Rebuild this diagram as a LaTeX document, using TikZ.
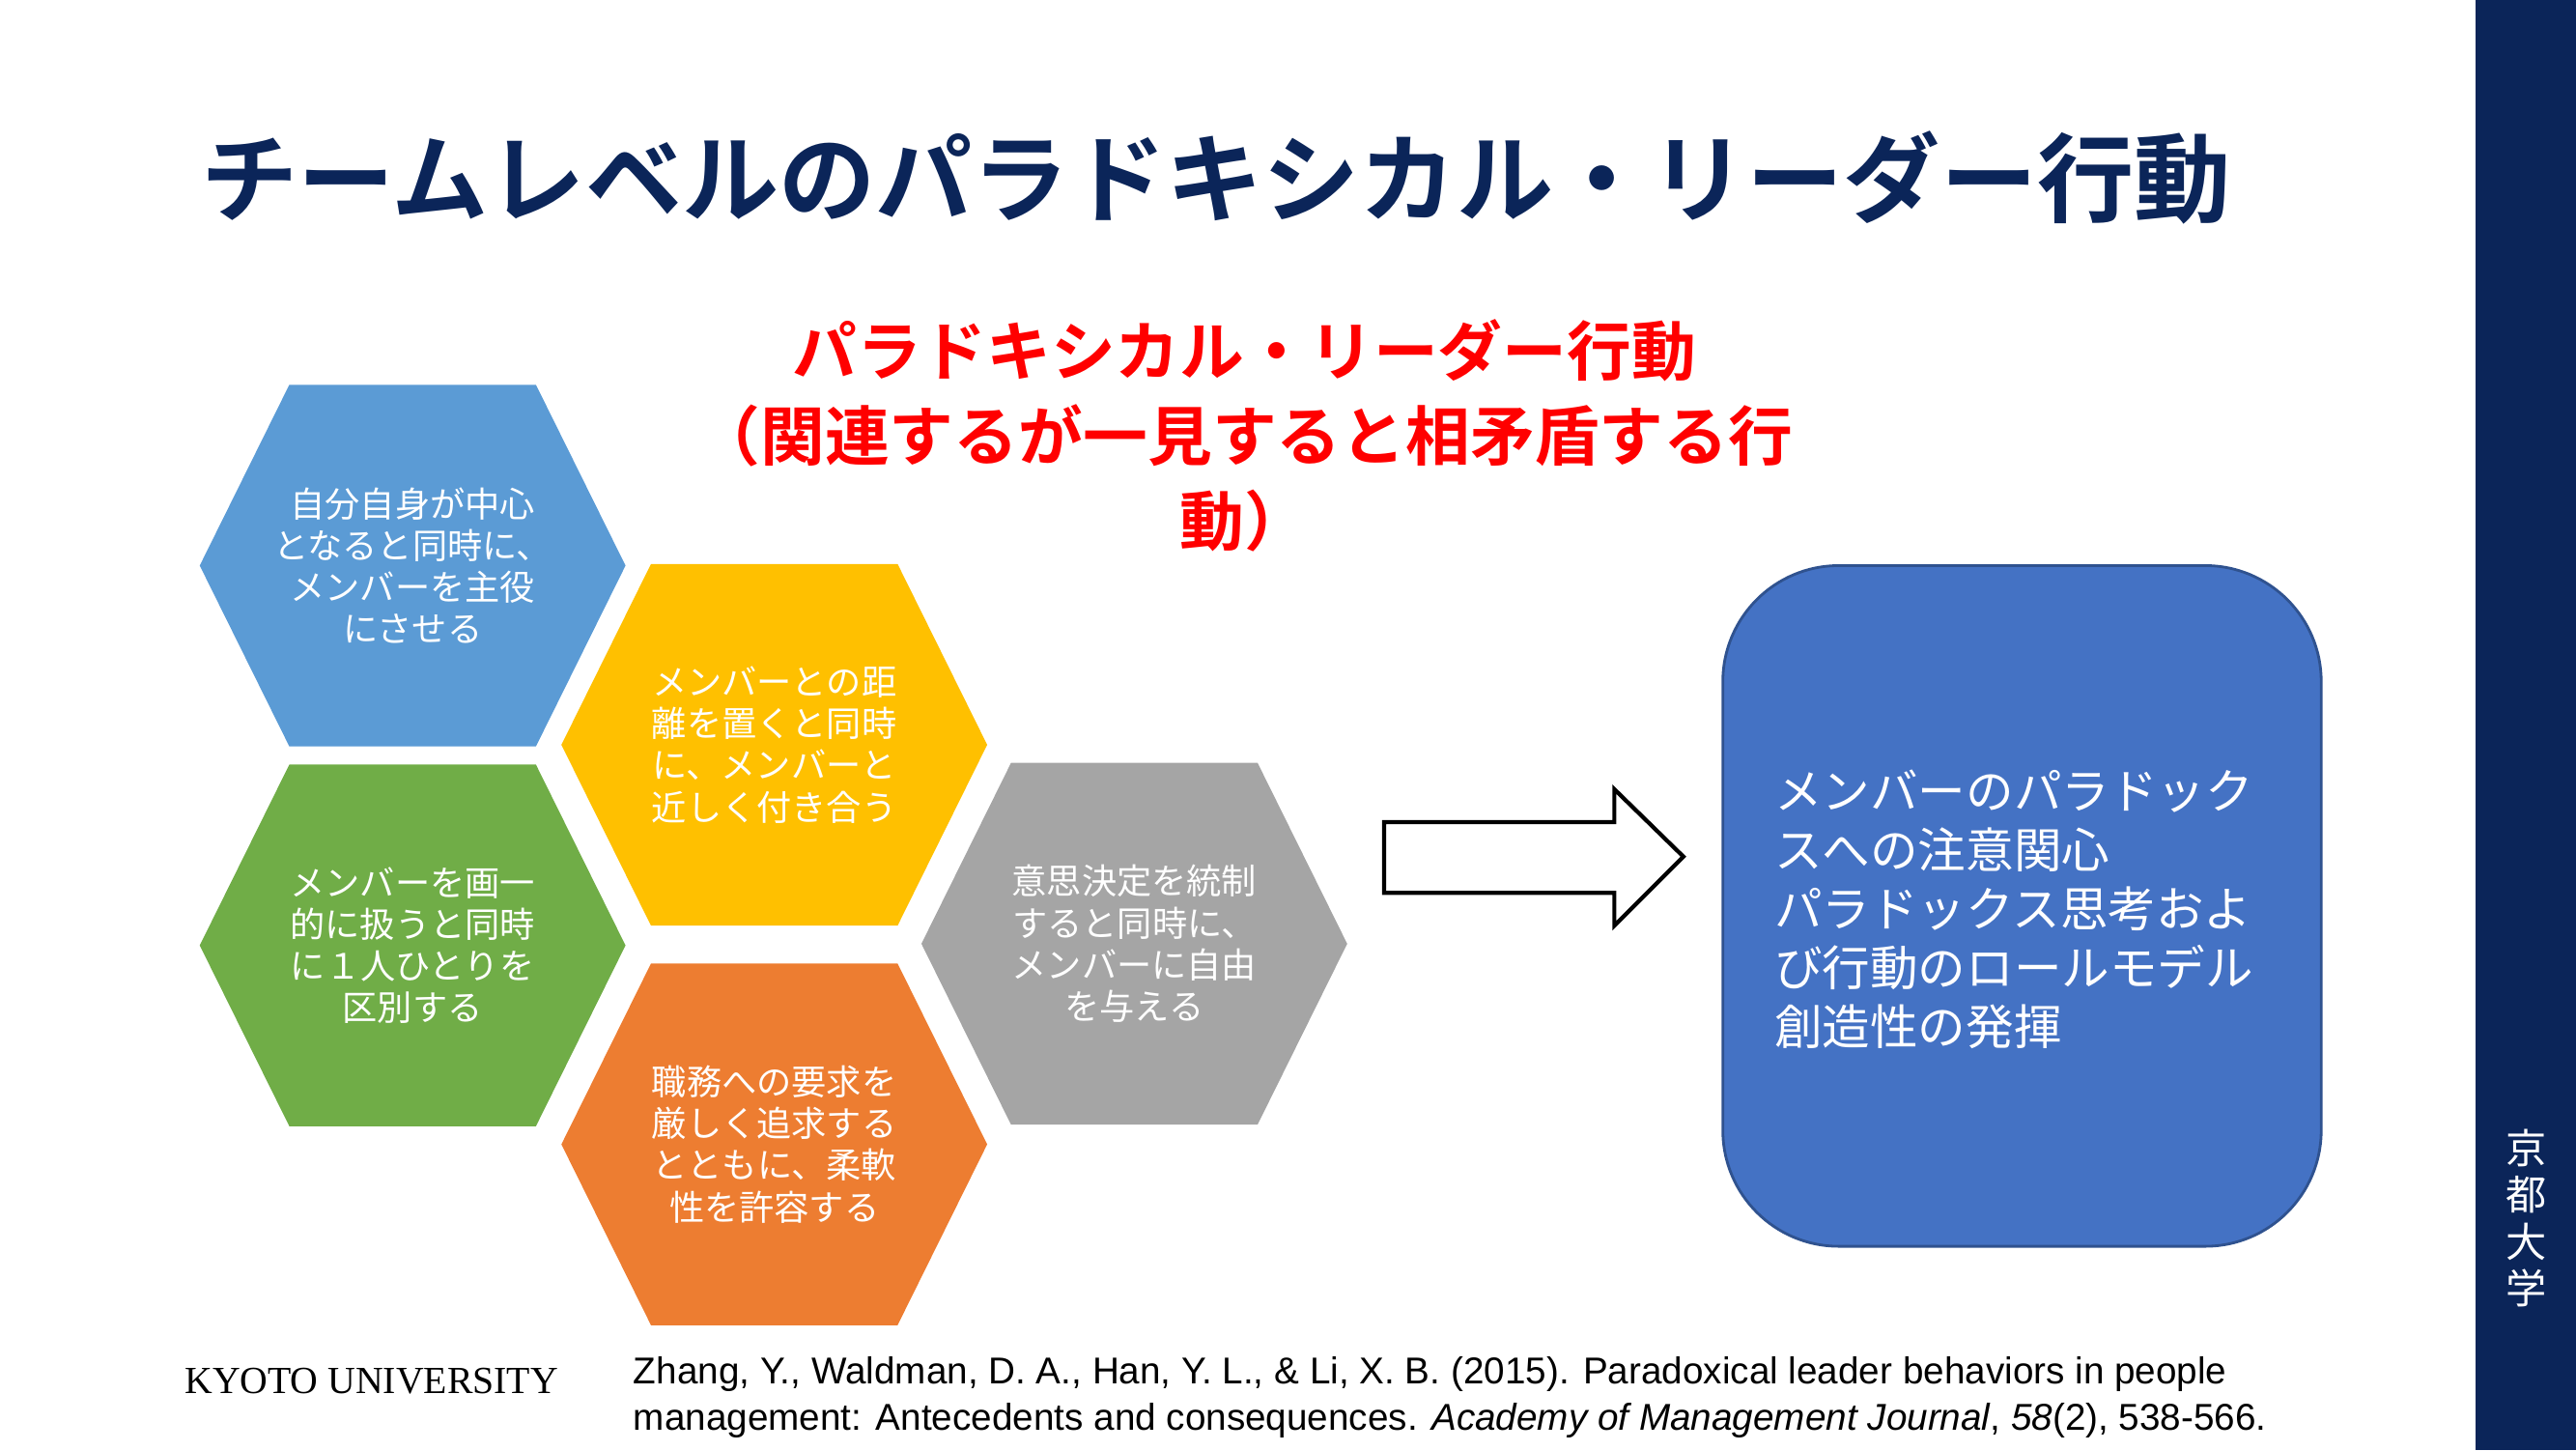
\documentclass[tikz,border=0pt]{standalone}
\usepackage{fontspec}
\setmainfont{Liberation Sans}
\newfontfamily\jp{Noto Sans CJK JP}
\newfontfamily\jpb{Noto Sans CJK JP Bold}
\newfontfamily\serifl{Liberation Serif}
\definecolor{navy}{HTML}{0B2559}
\definecolor{hblue}{HTML}{5B9BD5}
\definecolor{hyellow}{HTML}{FFC000}
\definecolor{hgreen}{HTML}{70AD47}
\definecolor{hgray}{HTML}{A5A5A5}
\definecolor{horange}{HTML}{ED7D31}
\definecolor{bblue}{HTML}{4472C4}
\definecolor{bborder}{HTML}{2F528F}
\begin{document}
\begin{tikzpicture}[x=0.01702cm,y=-0.01702cm,
  hextxt/.style={text=white,font=\jp\fontsize{10.3}{12.3}\selectfont,align=center,inner sep=0pt}]
\useasboundingbox (0,0) rectangle (1567,882);
\fill[navy] (1506,0) rectangle (1567,882);
\node[text=white,font=\jp\fontsize{12}{13.8}\selectfont,align=center] (kd) at (1537,741) {京\\都\\大\\学};
\node[text=navy,font=\jpb\fontsize{28.5}{30}\selectfont,anchor=west,inner sep=0pt] (title) at (122,108) {チームレベルのパラドキシカル・リーダー行動};
\node[text=red,font=\jpb\fontsize{19}{25}\selectfont,align=center] (red) at (757,265) {パラドキシカル・リーダー行動\\（関連するが一見すると相矛盾する行\\動）};
\newcommand{\hexa}[4]{%
  \fill[#3] (#1-129.5,#2) -- (#1-75,#2-110) -- (#1+75,#2-110) -- (#1+129.5,#2) -- (#1+75,#2+110) -- (#1-75,#2+110) -- cycle;
  \node[hextxt] at (#1,#2) {#4};}
\hexa{251}{344}{hblue}{自分自身が中心\\となると同時に、\\メンバーを主役\\にさせる}
\hexa{471}{453}{hyellow}{メンバーとの距\\離を置くと同時\\に、メンバーと\\近しく付き合う}
\hexa{251}{575}{hgreen}{メンバーを画一\\的に扱うと同時\\に１人ひとりを\\区別する}
\hexa{690}{574}{hgray}{意思決定を統制\\すると同時に、\\メンバーに自由\\を与える}
\hexa{471}{696}{horange}{職務への要求を\\厳しく追求する\\とともに、柔軟\\性を許容する}
\draw[line width=1.2pt,line join=miter] (842,500) -- (982,500) -- (982,480) -- (1024,521) -- (982,563) -- (982,543) -- (842,543) -- cycle;
\draw[fill=bblue,draw=bborder,line width=0.8pt,rounded corners=1.2cm] (1048,344) rectangle (1412,758);
\node[text=white,font=\jp\fontsize{14.1}{17.4}\selectfont,align=left,anchor=west,inner sep=0pt] (bt) at (1079,553) {メンバーのパラドック\\スへの注意関心\\パラドックス思考およ\\び行動のロールモデル\\創造性の発揮};
\node[font=\serifl\fontsize{11.3}{13}\selectfont,anchor=west,inner sep=0pt] (ku) at (112,840) {KYOTO UNIVERSITY};
\node[font=\fontsize{11}{13.6}\selectfont,anchor=north west,align=left,inner sep=0pt] (cite) at (385,825) {Zhang, Y., Waldman, D. A., Han, Y. L., \& Li, X. B. (2015). Paradoxical leader behaviors in people\\management: Antecedents and consequences. \textit{Academy of Management Journal}, \textit{58}(2), 538-566.};
\end{tikzpicture}
\end{document}
